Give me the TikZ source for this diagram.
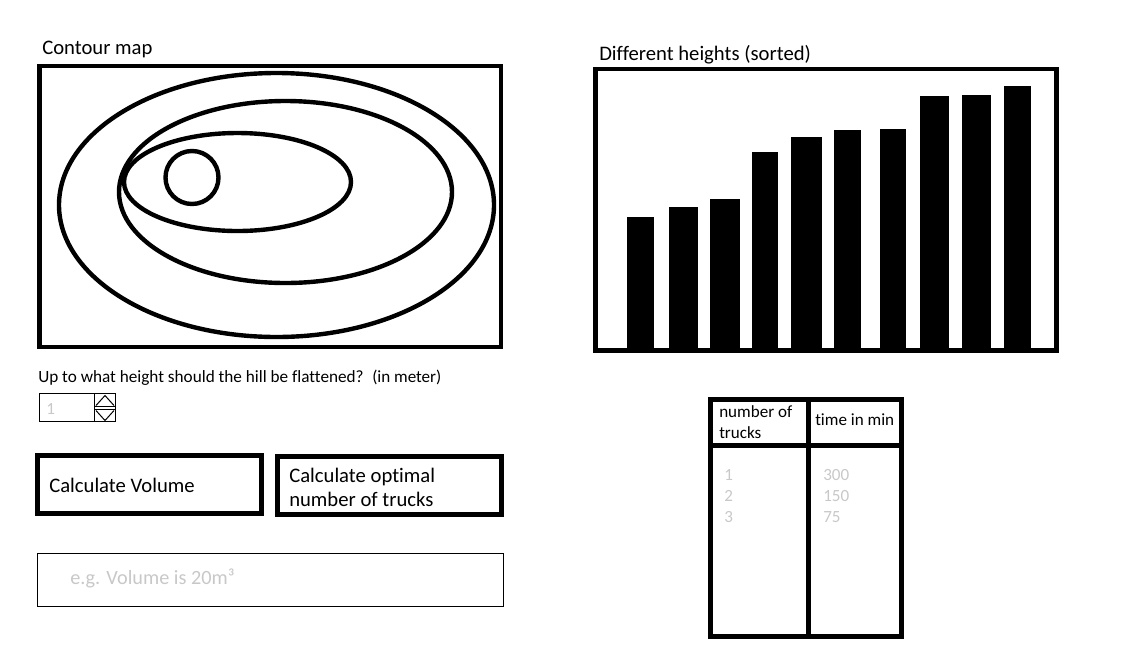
\documentclass[tikz,border=0pt]{standalone}
\usepackage{fontspec}
\setmainfont[Ligatures=NoCommon]{Carlito}
\definecolor{hint}{RGB}{200,200,200}
\tikzset{
  px/.style={x=0.75pt,y=-0.75pt},
  heavy/.style={draw=black,line width=3.7pt},
  medium/.style={draw=black,line width=3.3pt},
  thinline/.style={draw=black,line width=0.75pt},
  bar/.style={fill=black,draw=none},
  lab/.style={anchor=base west,inner sep=0pt,font=\fontsize{15.5}{18}\selectfont},
  small/.style={anchor=base west,inner sep=0pt,font=\fontsize{12.8}{15}\selectfont},
  hinted/.style={anchor=base west,inner sep=0pt,text=hint,font=\fontsize{12.8}{15}\selectfont},
}
\newcommand{\barpx}[3]{\fill[bar] (#1,#3) rectangle (#2,350);}
\begin{document}
\begin{tikzpicture}[px]
\useasboundingbox (0,0) rectangle (1144,654);
% contour map
\node[lab] (t1) at (42,54) {Contour map};
\draw[medium,line width=3.6pt] (39.5,66) rectangle (501,347);
\draw[medium] (276.5,205) ellipse [x radius=217.5,y radius=132];
\draw[medium] (285.5,192) ellipse [x radius=166.5,y radius=91];
\draw[medium] (237.5,182) ellipse [x radius=113.5,y radius=49];
\draw[medium] (192,177.5) circle [radius=26.5];
% heights
\node[lab] (t2) at (599,60) {Different heights (sorted)};
\draw[medium,line width=3.6pt] (595.5,69) rectangle (1056.5,350.5);
\barpx{627}{654}{217}
\barpx{669}{698}{207}
\barpx{710}{740}{199}
\barpx{752}{778}{152}
\barpx{791}{822}{137}
\barpx{834}{861}{130}
\barpx{880}{906}{129}
\barpx{920}{949}{96}
\barpx{962}{991}{95}
\barpx{1004}{1031}{86}
% question
\node[small,font=\fontsize{12.9}{15}\selectfont] (q) at (38,382) {Up to what height should the hill be flattened?};
\node[small] (u) at (372,382) {(in meter)};
% spinner
\draw[thinline] (39.5,393.5) rectangle (115.5,421.5);
\draw[thinline] (94.5,393.5) -- (94.5,421.5);
\draw[thinline] (94.5,406.5) -- (115.5,406.5);
\draw[thinline] (94.5,409.5) -- (115.5,409.5);
\draw[thinline] (96,405.5) -- (105,395.5) -- (114,405.5);
\draw[thinline] (96,410.5) -- (105,420.5) -- (114,410.5);
\node[hinted] (sv) at (46,414.5) {1};
% buttons
\draw[heavy] (37.5,455.5) rectangle (261.5,513.5);
\node[lab] (b1) at (49,492.5) {Calculate Volume};
\draw[heavy] (277.5,456.5) rectangle (501.5,514.5);
\node[lab] (b2a) at (289,482.5) {Calculate optimal};
\node[lab] (b2b) at (289,506.5) {number of trucks};
% output
\draw[thinline] (37.5,553.5) rectangle (503.5,606.5);
\node[hinted,font=\fontsize{15.2}{18}\selectfont] (o) at (70,584) {e.g. Volume is 20m³};
% table
\draw[heavy] (710.5,399.5) rectangle (901.5,636.5);
\draw[heavy] (808.5,399.5) -- (808.5,636.5);
\draw[heavy] (710.5,445.5) -- (901.5,445.5);
\node[small] (h1a) at (719,417.5) {number of};
\node[small] (h1b) at (719,438.5) {trucks};
\node[small] (h2) at (815,425.5) {time in min};
\node[hinted] (a1) at (724,480) {1};
\node[hinted] (a2) at (724,501) {2};
\node[hinted] (a3) at (724,522) {3};
\node[hinted] (b1v) at (823,480.5) {300};
\node[hinted] (b2v) at (823,501.5) {150};
\node[hinted] (b3v) at (823,522.5) {75};
\end{tikzpicture}
\end{document}
